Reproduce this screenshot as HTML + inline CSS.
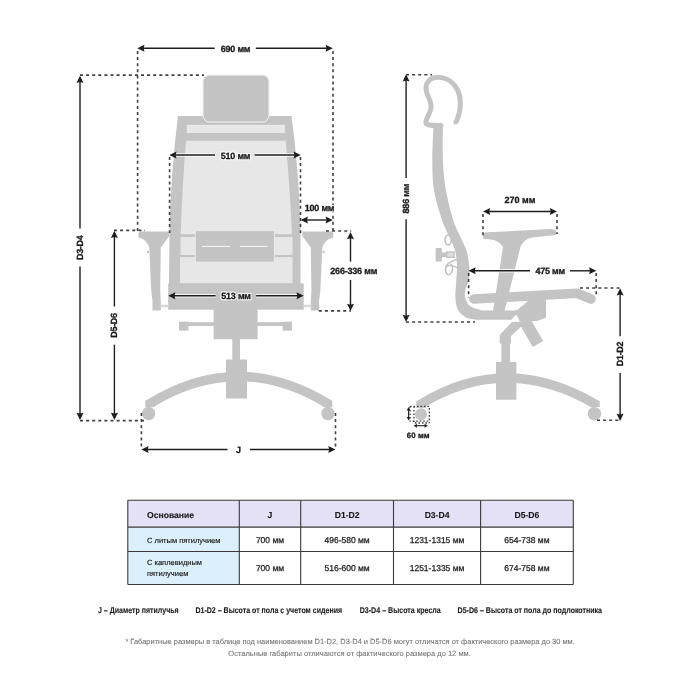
<!DOCTYPE html>
<html><head><meta charset="utf-8"><style>
html,body{margin:0;padding:0;background:#fff;}
svg{display:block;will-change:transform;text-rendering:geometricPrecision;font-family:"Liberation Sans",sans-serif;}
.d{stroke:#404040;stroke-width:1.6;stroke-dasharray:3 3.1;fill:none;}
.a{stroke:#1e1e1e;stroke-width:1.4;}
.h{stroke:#fff;stroke-width:3.6;opacity:0.85}

</style></head><body>
<svg width="700" height="700" viewBox="0 0 700 700">
<rect width="700" height="700" fill="#fff"/>
<path d="M178,116 L291.5,116 Q299,170 300.5,230 L300.5,284 L169,284 L169.5,230 Q171,170 178,116 Z" fill="#c4c4c4"/>
<rect x="203" y="75" width="66" height="47" rx="6.5" fill="#c4c4c4" stroke="#f2f2f2" stroke-width="1"/>
<rect x="187.3" y="125.3" width="97" height="7.2" fill="#e7e7e7" stroke="#f0f0f0" stroke-width="0.8"/>
<path d="M186,140.8 L285.7,140.8 Q290,190 292,234.3 L180.7,234.3 Q182,190 186,140.8 Z" fill="#e7e7e7"/>
<rect x="180.5" y="237" width="112" height="18" fill="#e7e7e7"/>
<rect x="180" y="257.1" width="112.5" height="26.3" fill="#e7e7e7"/>
<rect x="195.3" y="230.7" width="79" height="31.4" fill="#c4c4c4" stroke="#eeeeee" stroke-width="0.8"/>
<line x1="202" y1="246.4" x2="230" y2="246.4" stroke="#f4f4f4" stroke-width="1.1"/>
<line x1="240" y1="246.4" x2="267.6" y2="246.4" stroke="#f4f4f4" stroke-width="1.1"/>
<rect x="168.2" y="283.4" width="135.5" height="26.3" fill="#c4c4c4"/>
<path d="M138.4,234 Q138.4,231.4 141,231.4 L169.2,231.4 L169.2,236 L160.8,247.5 L160.2,290.6 L160.8,300.8 L160.8,310.5 L152.5,310.5 L152.5,300.8 L151.2,290.6 L149.3,247.5 Q146,239 140,238 L138.4,237.6 Z" fill="#c4c4c4"/>
<path d="M138.4,234 Q138.4,231.4 141,231.4 L169.2,231.4 L169.2,236 L160.8,247.5 L160.2,290.6 L160.8,300.8 L160.8,310.5 L152.5,310.5 L152.5,300.8 L151.2,290.6 L149.3,247.5 Q146,239 140,238 L138.4,237.6 Z" fill="#c4c4c4" transform="translate(471.6,0) scale(-1,1)"/>
<circle cx="148" cy="252" r="1.2" fill="#c4c4c4"/>
<circle cx="323.6" cy="252" r="1.2" fill="#c4c4c4"/>
<rect x="160.8" y="304.7" width="7.5" height="2.5" fill="#d8d8d8"/>
<rect x="303.5" y="304.7" width="7.5" height="2.5" fill="#d8d8d8"/>
<rect x="179" y="322.2" width="113" height="3.8" fill="#c4c4c4"/>
<rect x="179" y="321.7" width="9.4" height="9" fill="#c4c4c4"/>
<rect x="282.6" y="321.7" width="9.4" height="9" fill="#c4c4c4"/>
<rect x="213.6" y="309" width="44" height="30.2" fill="#c4c4c4"/>
<rect x="232.3" y="339" width="7.7" height="21" fill="#c4c4c4"/>
<path d="M150,407 L150,403.5 Q238.5,349.4 327.5,403.5 L327.5,407" fill="none" stroke="#c4c4c4" stroke-width="9.5"/>
<rect x="226" y="359.5" width="21" height="39" fill="#c4c4c4"/>
<circle cx="148.6" cy="413.5" r="6.7" fill="#c4c4c4"/>
<circle cx="328" cy="413.5" r="6.7" fill="#c4c4c4"/>
<line x1="140.3" y1="48.3" x2="214.7" y2="48.3" class="h"/>
<line x1="255.8" y1="48.3" x2="329.8" y2="48.3" class="h"/>
<line x1="140.3" y1="48.3" x2="214.7" y2="48.3" class="a"/>
<line x1="255.8" y1="48.3" x2="329.8" y2="48.3" class="a"/>
<polygon points="137.3,48.3 144.5,44.8 143.6,48.3 144.5,51.8" fill="#1e1e1e"/>
<polygon points="332.8,48.3 325.6,51.8 326.5,48.3 325.6,44.8" fill="#1e1e1e"/>
<text x="235.5" y="48.8" font-size="9" font-weight="bold" text-anchor="middle" dominant-baseline="central" letter-spacing="-0.2" fill="#fff" stroke="#fff" stroke-width="2.4" stroke-opacity="0.85">690 мм</text>
<text x="235.5" y="48.8" font-size="9" font-weight="bold" text-anchor="middle" dominant-baseline="central" letter-spacing="-0.2" fill="#1a1a1a" stroke="#1a1a1a" stroke-width="0.3">690 мм</text>
<line x1="137.6" y1="51" x2="137.6" y2="234" class="d"/>
<line x1="333" y1="51" x2="333" y2="233.7" class="d"/>
<line x1="80" y1="75.1" x2="204" y2="75.1" class="d"/>
<line x1="80" y1="78.7" x2="80" y2="228.6" class="h"/>
<line x1="80" y1="266.4" x2="80" y2="416.9" class="h"/>
<line x1="80" y1="78.7" x2="80" y2="228.6" class="a"/>
<line x1="80" y1="266.4" x2="80" y2="416.9" class="a"/>
<polygon points="80.0,75.7 83.5,82.9 80.0,82.0 76.5,82.9" fill="#1e1e1e"/>
<polygon points="80.0,419.9 76.5,412.7 80.0,413.6 83.5,412.7" fill="#1e1e1e"/>
<text x="80.3" y="247.8" font-size="9" font-weight="bold" text-anchor="middle" dominant-baseline="central" transform="rotate(-90 80.3 247.8)" letter-spacing="-0.35" fill="#fff" stroke="#fff" stroke-width="2.4" stroke-opacity="0.85">D3-D4</text>
<text x="80.3" y="247.8" font-size="9" font-weight="bold" text-anchor="middle" dominant-baseline="central" transform="rotate(-90 80.3 247.8)" letter-spacing="-0.35" fill="#1a1a1a" stroke="#1a1a1a" stroke-width="0.3">D3-D4</text>
<line x1="80" y1="420.6" x2="146" y2="420.6" class="d"/>
<line x1="114.4" y1="233.7" x2="114.4" y2="306.5" class="h"/>
<line x1="114.4" y1="344.6" x2="114.4" y2="416.9" class="h"/>
<line x1="114.4" y1="233.7" x2="114.4" y2="306.5" class="a"/>
<line x1="114.4" y1="344.6" x2="114.4" y2="416.9" class="a"/>
<polygon points="114.4,230.7 117.9,237.9 114.4,237.0 110.9,237.9" fill="#1e1e1e"/>
<polygon points="114.4,419.9 110.9,412.7 114.4,413.6 117.9,412.7" fill="#1e1e1e"/>
<text x="114.4" y="325.5" font-size="9" font-weight="bold" text-anchor="middle" dominant-baseline="central" transform="rotate(-90 114.4 325.5)" letter-spacing="-0.35" fill="#fff" stroke="#fff" stroke-width="2.4" stroke-opacity="0.85">D5-D6</text>
<text x="114.4" y="325.5" font-size="9" font-weight="bold" text-anchor="middle" dominant-baseline="central" transform="rotate(-90 114.4 325.5)" letter-spacing="-0.35" fill="#1a1a1a" stroke="#1a1a1a" stroke-width="0.3">D5-D6</text>
<line x1="114" y1="230.4" x2="145" y2="230.4" class="d"/>
<line x1="172.3" y1="155" x2="215" y2="155" class="h"/>
<line x1="254.6" y1="155" x2="297.8" y2="155" class="h"/>
<line x1="172.3" y1="155" x2="215" y2="155" class="a"/>
<line x1="254.6" y1="155" x2="297.8" y2="155" class="a"/>
<polygon points="169.3,155.0 176.5,151.5 175.6,155.0 176.5,158.5" fill="#1e1e1e"/>
<polygon points="300.8,155.0 293.6,158.5 294.5,155.0 293.6,151.5" fill="#1e1e1e"/>
<text x="235.5" y="155.5" font-size="9" font-weight="bold" text-anchor="middle" dominant-baseline="central" letter-spacing="-0.2" fill="#fff" stroke="#fff" stroke-width="2.4" stroke-opacity="0.85">510 мм</text>
<text x="235.5" y="155.5" font-size="9" font-weight="bold" text-anchor="middle" dominant-baseline="central" letter-spacing="-0.2" fill="#1a1a1a" stroke="#1a1a1a" stroke-width="0.3">510 мм</text>
<line x1="169.6" y1="157" x2="169.6" y2="233" class="d"/>
<line x1="300.5" y1="157" x2="300.5" y2="233" class="d"/>
<line x1="303.7" y1="220" x2="329.8" y2="220" class="h"/>
<line x1="303.7" y1="220" x2="329.8" y2="220" class="a"/>
<polygon points="300.7,220.0 307.9,216.5 307.0,220.0 307.9,223.5" fill="#1e1e1e"/>
<polygon points="332.8,220.0 325.6,223.5 326.5,220.0 325.6,216.5" fill="#1e1e1e"/>
<text x="319.5" y="208" font-size="9" font-weight="bold" text-anchor="middle" dominant-baseline="central" letter-spacing="-0.2" fill="#fff" stroke="#fff" stroke-width="2.4" stroke-opacity="0.85">100 мм</text>
<text x="319.5" y="208" font-size="9" font-weight="bold" text-anchor="middle" dominant-baseline="central" letter-spacing="-0.2" fill="#1a1a1a" stroke="#1a1a1a" stroke-width="0.3">100 мм</text>
<line x1="350.5" y1="235" x2="350.5" y2="261.6" class="h"/>
<line x1="350.5" y1="280" x2="350.5" y2="308" class="h"/>
<line x1="350.5" y1="235" x2="350.5" y2="261.6" class="a"/>
<line x1="350.5" y1="280" x2="350.5" y2="308" class="a"/>
<polygon points="350.5,232.0 354.0,239.2 350.5,238.3 347.0,239.2" fill="#1e1e1e"/>
<polygon points="350.5,311.0 347.0,303.8 350.5,304.7 354.0,303.8" fill="#1e1e1e"/>
<text x="353.7" y="271.4" font-size="9" font-weight="bold" text-anchor="middle" dominant-baseline="central" letter-spacing="-0.2" fill="#fff" stroke="#fff" stroke-width="2.4" stroke-opacity="0.85">266-336 мм</text>
<text x="353.7" y="271.4" font-size="9" font-weight="bold" text-anchor="middle" dominant-baseline="central" letter-spacing="-0.2" fill="#1a1a1a" stroke="#1a1a1a" stroke-width="0.3">266-336 мм</text>
<line x1="326" y1="231" x2="351.3" y2="231" class="d"/>
<line x1="318.8" y1="310.9" x2="351" y2="310.9" class="d"/>
<line x1="171.2" y1="295.8" x2="215.6" y2="295.8" class="h"/>
<line x1="256.1" y1="295.8" x2="300.7" y2="295.8" class="h"/>
<line x1="171.2" y1="295.8" x2="215.6" y2="295.8" class="a"/>
<line x1="256.1" y1="295.8" x2="300.7" y2="295.8" class="a"/>
<polygon points="168.2,295.8 175.4,292.3 174.5,295.8 175.4,299.3" fill="#1e1e1e"/>
<polygon points="303.7,295.8 296.5,299.3 297.4,295.8 296.5,292.3" fill="#1e1e1e"/>
<text x="236" y="296.3" font-size="9" font-weight="bold" text-anchor="middle" dominant-baseline="central" letter-spacing="-0.2" fill="#fff" stroke="#fff" stroke-width="2.4" stroke-opacity="0.85">513 мм</text>
<text x="236" y="296.3" font-size="9" font-weight="bold" text-anchor="middle" dominant-baseline="central" letter-spacing="-0.2" fill="#1a1a1a" stroke="#1a1a1a" stroke-width="0.3">513 мм</text>
<line x1="144.4" y1="449.5" x2="227.5" y2="449.5" class="h"/>
<line x1="250" y1="449.5" x2="332.5" y2="449.5" class="h"/>
<line x1="144.4" y1="449.5" x2="227.5" y2="449.5" class="a"/>
<line x1="250" y1="449.5" x2="332.5" y2="449.5" class="a"/>
<polygon points="141.4,449.5 148.6,446.0 147.7,449.5 148.6,453.0" fill="#1e1e1e"/>
<polygon points="335.5,449.5 328.3,453.0 329.2,449.5 328.3,446.0" fill="#1e1e1e"/>
<text x="238.5" y="450" font-size="9" font-weight="bold" text-anchor="middle" dominant-baseline="central" fill="#fff" stroke="#fff" stroke-width="2.4" stroke-opacity="0.85">J</text>
<text x="238.5" y="450" font-size="9" font-weight="bold" text-anchor="middle" dominant-baseline="central" fill="#1a1a1a" stroke="#1a1a1a" stroke-width="0.3">J</text>
<line x1="141.4" y1="413" x2="141.4" y2="449.5" class="d"/>
<line x1="335.5" y1="413" x2="335.5" y2="449.5" class="d"/>
<path d="M456,122 C461,112 462,98 457,89 C452,80 444,76.8 437,77.3 C430,78 426,82 426,88 C426,96 432,100 431,108 C430,115 425,119 426,123 C427,125.5 432,125.5 441,125.5" fill="none" stroke="#c4c4c4" stroke-width="5" stroke-linecap="round"/>
<path d="M433.6,124 C433.38,130.00 432.23,149.00 432.30,160.00 C432.37,171.00 432.38,180.00 434.00,190.00 C435.62,200.00 439.33,212.00 442.00,220.00 C444.67,228.00 447.80,232.83 450.00,238.00 C452.20,243.17 454.03,246.33 455.20,251.00 C456.37,255.67 456.83,260.83 457.00,266.00 C457.17,271.17 456.47,276.67 456.20,282.00 C455.93,287.33 455.10,293.33 455.40,298.00 C455.70,302.67 456.23,306.75 458.00,310.00 C459.77,313.25 463.00,315.88 466.00,317.50 C469.00,319.12 474.33,319.33 476.00,319.70 L511,319.7 L520,310.6 L482,310.6 C480.00,309.83 472.78,308.10 470.00,306.00 C467.22,303.90 466.08,300.67 465.30,298.00 C464.52,295.33 464.68,293.17 465.30,290.00 C465.92,286.83 468.35,283.00 469.00,279.00 C469.65,275.00 469.60,270.67 469.20,266.00 C468.80,261.33 468.05,255.83 466.60,251.00 C465.15,246.17 462.73,242.17 460.50,237.00 C458.27,231.83 455.63,227.83 453.20,220.00 C450.77,212.17 447.62,200.00 445.90,190.00 C444.18,180.00 443.40,171.00 442.90,160.00 C442.40,149.00 442.90,130.00 442.90,124.00 Z" fill="#c4c4c4"/>
<path d="M511,319.7 L520,310.6 L515,310.6 L509,319.7 Z" fill="#c4c4c4"/>
<path d="M474,299 L577,293.2 L591,299" fill="none" stroke="#c4c4c4" stroke-width="9.6" stroke-linecap="round" stroke-linejoin="round"/>
<path d="M483.1,235 Q483.1,232.5 487,232.3 L550,229.1 Q556.4,229.5 556.4,232 L556.4,234.9 L532,237.4 Q524,239 520.4,247 L504.5,311 L493,311 L503,247 Q499,240 490.9,239.4 L483.1,238.7 Z" fill="#c4c4c4"/>
<path d="M515,311.7 L530.6,298.9 L546,298.9 L546,317.7 L537,321 L512,322 L499.7,334.9 L499.7,343.4 L510.9,343.4 L510.9,336 L522,326 Z" fill="#c4c4c4"/>
<line x1="524" y1="320" x2="538" y2="344" stroke="#c4c4c4" stroke-width="12"/>
<rect x="501.4" y="343" width="8.6" height="20" fill="#c4c4c4"/>
<rect x="496" y="362" width="20.4" height="37.7" fill="#c4c4c4"/>
<path d="M421,408 L421,404 Q506,352 595,404 L595,407" fill="none" stroke="#c4c4c4" stroke-width="9.5"/>
<circle cx="421" cy="414.3" r="6" fill="#c4c4c4"/>
<circle cx="594.5" cy="413.7" r="6.8" fill="#c4c4c4"/>
<rect x="435.6" y="248" width="6.3" height="13.4" rx="1.2" fill="#c4c4c4"/>
<rect x="441.5" y="252.5" width="5" height="4.5" fill="#c4c4c4"/>
<rect x="446.6" y="252" width="7.5" height="5.3" fill="#dcdcdc" stroke="#c4c4c4" stroke-width="1.4"/>
<ellipse cx="448.2" cy="240" rx="3.1" ry="4.8" fill="none" stroke="#c4c4c4" stroke-width="1.8"/>
<path d="M458,259.5 C451,261 444.5,264 445.6,270.5 C446.5,275.5 449.5,276 451.5,272.5 C453.3,269.5 453,265.5 450.5,263.8" fill="none" stroke="#c4c4c4" stroke-width="1.6"/>
<path d="M446,266.5 C450,264.8 455,266 459,269" fill="none" stroke="#c4c4c4" stroke-width="1.5"/>
<line x1="406.1" y1="77.3" x2="406.1" y2="177.9" class="h"/>
<line x1="406.1" y1="219.3" x2="406.1" y2="319" class="h"/>
<line x1="406.1" y1="77.3" x2="406.1" y2="177.9" class="a"/>
<line x1="406.1" y1="219.3" x2="406.1" y2="319" class="a"/>
<polygon points="406.1,74.3 409.6,81.5 406.1,80.6 402.6,81.5" fill="#1e1e1e"/>
<polygon points="406.1,322.0 402.6,314.8 406.1,315.7 409.6,314.8" fill="#1e1e1e"/>
<text x="406.1" y="198.6" font-size="9" font-weight="bold" text-anchor="middle" dominant-baseline="central" transform="rotate(-90 406.1 198.6)" letter-spacing="-0.2" fill="#fff" stroke="#fff" stroke-width="2.4" stroke-opacity="0.85">886 мм</text>
<text x="406.1" y="198.6" font-size="9" font-weight="bold" text-anchor="middle" dominant-baseline="central" transform="rotate(-90 406.1 198.6)" letter-spacing="-0.2" fill="#1a1a1a" stroke="#1a1a1a" stroke-width="0.3">886 мм</text>
<line x1="406" y1="74.7" x2="432" y2="74.7" class="d"/>
<line x1="406" y1="322" x2="475" y2="322" class="d"/>
<line x1="486" y1="211.5" x2="554" y2="211.5" class="h"/>
<line x1="486" y1="211.5" x2="554" y2="211.5" class="a"/>
<polygon points="483.0,211.5 490.2,208.0 489.3,211.5 490.2,215.0" fill="#1e1e1e"/>
<polygon points="557.0,211.5 549.8,215.0 550.7,211.5 549.8,208.0" fill="#1e1e1e"/>
<text x="520" y="200.3" font-size="9" font-weight="bold" text-anchor="middle" dominant-baseline="central" letter-spacing="0" fill="#fff" stroke="#fff" stroke-width="2.4" stroke-opacity="0.85">270 мм</text>
<text x="520" y="200.3" font-size="9" font-weight="bold" text-anchor="middle" dominant-baseline="central" letter-spacing="0" fill="#1a1a1a" stroke="#1a1a1a" stroke-width="0.3">270 мм</text>
<line x1="483" y1="214" x2="483" y2="235.4" class="d"/>
<line x1="557" y1="214" x2="557" y2="234" class="d"/>
<line x1="471.5" y1="270.8" x2="530" y2="270.8" class="h"/>
<line x1="570" y1="270.8" x2="593.3" y2="270.8" class="h"/>
<line x1="471.5" y1="270.8" x2="530" y2="270.8" class="a"/>
<line x1="570" y1="270.8" x2="593.3" y2="270.8" class="a"/>
<polygon points="468.5,270.8 475.7,267.3 474.8,270.8 475.7,274.3" fill="#1e1e1e"/>
<polygon points="596.3,270.8 589.1,274.3 590.0,270.8 589.1,267.3" fill="#1e1e1e"/>
<text x="550.2" y="271.3" font-size="9" font-weight="bold" text-anchor="middle" dominant-baseline="central" letter-spacing="-0.2" fill="#fff" stroke="#fff" stroke-width="2.4" stroke-opacity="0.85">475 мм</text>
<text x="550.2" y="271.3" font-size="9" font-weight="bold" text-anchor="middle" dominant-baseline="central" letter-spacing="-0.2" fill="#1a1a1a" stroke="#1a1a1a" stroke-width="0.3">475 мм</text>
<line x1="468.6" y1="273" x2="468.6" y2="298" class="d"/>
<line x1="596.2" y1="273" x2="596.2" y2="296" class="d"/>
<line x1="580" y1="288" x2="620" y2="288" class="d"/>
<line x1="620.1" y1="291.3" x2="620.1" y2="336.3" class="h"/>
<line x1="620.1" y1="372.9" x2="620.1" y2="417.9" class="h"/>
<line x1="620.1" y1="291.3" x2="620.1" y2="336.3" class="a"/>
<line x1="620.1" y1="372.9" x2="620.1" y2="417.9" class="a"/>
<polygon points="620.1,288.3 623.6,295.5 620.1,294.6 616.6,295.5" fill="#1e1e1e"/>
<polygon points="620.1,420.9 616.6,413.7 620.1,414.6 623.6,413.7" fill="#1e1e1e"/>
<text x="620.1" y="354" font-size="9" font-weight="bold" text-anchor="middle" dominant-baseline="central" transform="rotate(-90 620.1 354)" letter-spacing="-0.35" fill="#fff" stroke="#fff" stroke-width="2.4" stroke-opacity="0.85">D1-D2</text>
<text x="620.1" y="354" font-size="9" font-weight="bold" text-anchor="middle" dominant-baseline="central" transform="rotate(-90 620.1 354)" letter-spacing="-0.35" fill="#1a1a1a" stroke="#1a1a1a" stroke-width="0.3">D1-D2</text>
<line x1="597" y1="420.3" x2="620" y2="420.3" class="d"/>
<path d="M410,406.4 L429.3,406.4 L429.3,423 M410,406.4 L410,421.2 L429.3,421.2 M414,406.4 L414,423 L429.3,423" fill="none" stroke="#404040" stroke-width="1.3" stroke-dasharray="1.6 1.9"/>
<line x1="408.6" y1="409" x2="408.6" y2="418.5" stroke="#1e1e1e" stroke-width="1.1"/>
<polygon points="408.6,407.1 410.6,410.6 408.6,410.2 406.6,410.6" fill="#1e1e1e"/>
<polygon points="408.6,420.4 406.6,416.9 408.6,417.3 410.6,416.9" fill="#1e1e1e"/>
<line x1="416" y1="425.7" x2="425.5" y2="425.7" stroke="#1e1e1e" stroke-width="1.1"/>
<polygon points="413.6,425.7 417.1,423.7 416.7,425.7 417.1,427.7" fill="#1e1e1e"/>
<polygon points="427.9,425.7 424.4,427.7 424.8,425.7 424.4,423.7" fill="#1e1e1e"/>
<text x="418.3" y="435.7" font-size="7.8" font-weight="bold" text-anchor="middle" dominant-baseline="central" letter-spacing="0.1" fill="#fff" stroke="#fff" stroke-width="2.4" stroke-opacity="0.85">60 мм</text>
<text x="418.3" y="435.7" font-size="7.8" font-weight="bold" text-anchor="middle" dominant-baseline="central" letter-spacing="0.1" fill="#1a1a1a" stroke="#1a1a1a" stroke-width="0.3">60 мм</text>
<rect x="127.8" y="500.3" width="445.49999999999994" height="26.80000000000001" fill="#e4e0f6"/>
<rect x="127.8" y="527.1" width="111.50000000000001" height="57.39999999999998" fill="#dcf0fb"/>
<line x1="127.8" y1="500.3" x2="127.8" y2="584.5" stroke="#3a3a3a" stroke-width="1.1"/>
<line x1="239.3" y1="500.3" x2="239.3" y2="584.5" stroke="#3a3a3a" stroke-width="1.1"/>
<line x1="300.7" y1="500.3" x2="300.7" y2="584.5" stroke="#3a3a3a" stroke-width="1.1"/>
<line x1="393.5" y1="500.3" x2="393.5" y2="584.5" stroke="#3a3a3a" stroke-width="1.1"/>
<line x1="480.6" y1="500.3" x2="480.6" y2="584.5" stroke="#3a3a3a" stroke-width="1.1"/>
<line x1="573.3" y1="500.3" x2="573.3" y2="584.5" stroke="#3a3a3a" stroke-width="1.1"/>
<line x1="127.8" y1="500.3" x2="573.3" y2="500.3" stroke="#3a3a3a" stroke-width="1.1"/>
<line x1="127.8" y1="527.1" x2="573.3" y2="527.1" stroke="#3a3a3a" stroke-width="1.1"/>
<line x1="127.8" y1="551.5" x2="573.3" y2="551.5" stroke="#3a3a3a" stroke-width="1.1"/>
<line x1="127.8" y1="584.5" x2="573.3" y2="584.5" stroke="#3a3a3a" stroke-width="1.1"/>
<text x="147" y="514.6" font-size="8.6" font-weight="bold" text-anchor="start" dominant-baseline="central" fill="#1a1a1a" stroke="#1a1a1a" stroke-width="0.12">Основание</text>
<text x="270.0" y="514.6" font-size="8.6" font-weight="bold" text-anchor="middle" dominant-baseline="central" fill="#1a1a1a" stroke="#1a1a1a" stroke-width="0.12">J</text>
<text x="347.1" y="514.6" font-size="8.6" font-weight="bold" text-anchor="middle" dominant-baseline="central" fill="#1a1a1a" stroke="#1a1a1a" stroke-width="0.12">D1-D2</text>
<text x="437.05" y="514.6" font-size="8.6" font-weight="bold" text-anchor="middle" dominant-baseline="central" fill="#1a1a1a" stroke="#1a1a1a" stroke-width="0.12">D3-D4</text>
<text x="526.95" y="514.6" font-size="8.6" font-weight="bold" text-anchor="middle" dominant-baseline="central" fill="#1a1a1a" stroke="#1a1a1a" stroke-width="0.12">D5-D6</text>
<text x="147" y="540.2" font-size="7.5" font-weight="normal" text-anchor="start" dominant-baseline="central" fill="#1a1a1a" stroke="#1a1a1a" stroke-width="0.15">С литым пятилучием</text>
<text x="147" y="562.8" font-size="7.5" font-weight="normal" text-anchor="start" dominant-baseline="central" fill="#1a1a1a" stroke="#1a1a1a" stroke-width="0.15">С каплевидным</text>
<text x="147" y="573.8" font-size="7.5" font-weight="normal" text-anchor="start" dominant-baseline="central" fill="#1a1a1a" stroke="#1a1a1a" stroke-width="0.15">пятилучием</text>
<text x="270.0" y="540.0" font-size="8.5" font-weight="normal" text-anchor="middle" dominant-baseline="central" fill="#1a1a1a" stroke="#1a1a1a" stroke-width="0.25">700 мм</text>
<text x="270.0" y="568.0" font-size="8.5" font-weight="normal" text-anchor="middle" dominant-baseline="central" fill="#1a1a1a" stroke="#1a1a1a" stroke-width="0.25">700 мм</text>
<text x="347.1" y="540.0" font-size="8.5" font-weight="normal" text-anchor="middle" dominant-baseline="central" fill="#1a1a1a" stroke="#1a1a1a" stroke-width="0.25">496-580 мм</text>
<text x="347.1" y="568.0" font-size="8.5" font-weight="normal" text-anchor="middle" dominant-baseline="central" fill="#1a1a1a" stroke="#1a1a1a" stroke-width="0.25">516-600 мм</text>
<text x="437.05" y="540.0" font-size="8.5" font-weight="normal" text-anchor="middle" dominant-baseline="central" fill="#1a1a1a" stroke="#1a1a1a" stroke-width="0.25">1231-1315 мм</text>
<text x="437.05" y="568.0" font-size="8.5" font-weight="normal" text-anchor="middle" dominant-baseline="central" fill="#1a1a1a" stroke="#1a1a1a" stroke-width="0.25">1251-1335 мм</text>
<text x="526.95" y="540.0" font-size="8.5" font-weight="normal" text-anchor="middle" dominant-baseline="central" fill="#1a1a1a" stroke="#1a1a1a" stroke-width="0.25">654-738 мм</text>
<text x="526.95" y="568.0" font-size="8.5" font-weight="normal" text-anchor="middle" dominant-baseline="central" fill="#1a1a1a" stroke="#1a1a1a" stroke-width="0.25">674-758 мм</text>
<text x="98" y="610.1" font-size="8.4" font-weight="bold" text-anchor="start" dominant-baseline="central" textLength="80.7" lengthAdjust="spacingAndGlyphs" fill="#1a1a1a" stroke="#1a1a1a" stroke-width="0.1">J – Диаметр пятилучья</text>
<text x="195.4" y="610.1" font-size="8.4" font-weight="bold" text-anchor="start" dominant-baseline="central" textLength="146.7" lengthAdjust="spacingAndGlyphs" fill="#1a1a1a" stroke="#1a1a1a" stroke-width="0.1">D1-D2 – Высота от пола с учетом сидения</text>
<text x="359.7" y="610.1" font-size="8.4" font-weight="bold" text-anchor="start" dominant-baseline="central" textLength="81.1" lengthAdjust="spacingAndGlyphs" fill="#1a1a1a" stroke="#1a1a1a" stroke-width="0.1">D3-D4 – Высота кресла</text>
<text x="457.6" y="610.1" font-size="8.4" font-weight="bold" text-anchor="start" dominant-baseline="central" textLength="144.4" lengthAdjust="spacingAndGlyphs" fill="#1a1a1a" stroke="#1a1a1a" stroke-width="0.1">D5-D6 – Высота от пола до подлокотника</text>
<text x="125.4" y="641" font-size="7.5" font-weight="normal" text-anchor="start" dominant-baseline="central" textLength="449.4" lengthAdjust="spacingAndGlyphs" fill="#747474" stroke="#747474" stroke-width="0.08">* Габаритные размеры в таблице под наименованием D1-D2, D3-D4 и D5-D6 могут отличатся от фактического размера до 30 мм.</text>
<text x="228.3" y="653.0" font-size="7.5" font-weight="normal" text-anchor="start" dominant-baseline="central" textLength="242.5" lengthAdjust="spacingAndGlyphs" fill="#747474" stroke="#747474" stroke-width="0.08">Остальные габариты отличаются от фактического размера до 12 мм.</text>
</svg>
</body></html>
